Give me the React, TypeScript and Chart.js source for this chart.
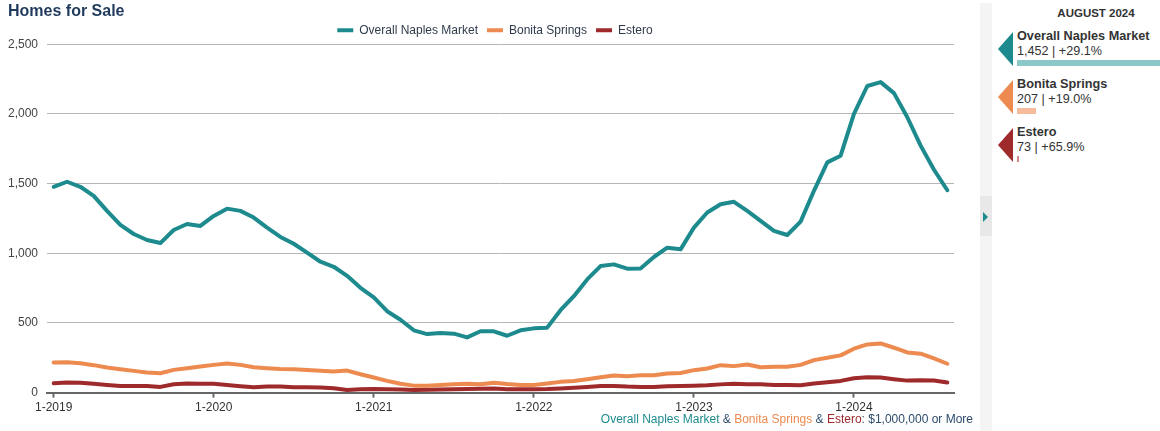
import React, { useEffect, useRef } from 'react';
import { Chart, registerables } from 'chart.js';

Chart.register(...registerables);

const FONT = '"Liberation Sans", Arial, Helvetica, sans-serif';

// ---- data ----
const years = [2019, 2020, 2021, 2022, 2023, 2024];
const monthsShownInLastYear = 8;
const months: string[] = [];
years.forEach((y, yi) => {
  const n = yi === years.length - 1 ? monthsShownInLastYear : 12;
  for (let m = 1; m <= n; m++) months.push(`${m}-${y}`);
});

const seriesNames = ['Overall Naples Market', 'Bonita Springs', 'Estero'];

const naples = [
  1477, 1513, 1477, 1412, 1304, 1203, 1138, 1095, 1073, 1167, 1210, 1196,
  1268, 1320, 1304, 1256, 1184, 1117, 1068, 1004, 939, 903, 838, 752,
  683, 584, 523, 447, 420, 427, 423, 396, 440, 440, 408, 447,
  461, 466, 591, 692, 812, 908, 920, 889, 891, 973, 1040, 1028,
  1184, 1292, 1352, 1369, 1304, 1232, 1160, 1131, 1227, 1448, 1652, 1700,
  2000, 2200, 2228, 2149, 1976, 1772, 1599, 1452,
];

const bonita = [
  216, 218, 211, 197, 180, 168, 156, 144, 139, 163, 175, 187,
  199, 209, 199, 182, 175, 170, 168, 163, 156, 151, 158, 132,
  108, 84, 63, 50, 50, 55, 60, 63, 60, 70, 61, 55,
  55, 65, 77, 84, 96, 110, 122, 117, 125, 125, 137, 141,
  161, 173, 197, 190, 202, 182, 185, 185, 199, 233, 250, 267,
  315, 346, 353, 322, 288, 279, 245, 207,
];

const estero = [
  67, 72, 70, 63, 55, 48, 48, 48, 41, 60, 65, 63,
  63, 55, 46, 38, 43, 43, 38, 38, 36, 31, 19, 24,
  26, 24, 22, 19, 20, 22, 24, 26, 28, 29, 24, 24,
  24, 25, 29, 34, 41, 48, 48, 43, 41, 41, 45, 48,
  50, 53, 59, 63, 60, 60, 55, 55, 53, 65, 74, 84,
  103, 110, 108, 96, 86, 88, 87, 73,
];

const yMin = 0;
const yMax = 2500;
const yStep = 500;

const panelMonth = 'AUGUST 2024';
const panelCounts = ['1,452', '207', '73'];
const panelChanges = ['+29.1%', '+19.0%', '+65.9%'];
const captionSuffix = ': $1,000,000 or More';

// ---- styles ----
const colors = ['#1d8a8e', '#ec8a4f', '#9e2a2b'];
const barColors = ['#8cc8ca', '#f5bb9b', '#d08a8a'];
const barWidths = [143, 19, 2];
const navy = '#2c4a6b';

export default function App() {
  const ref = useRef<HTMLCanvasElement>(null);

  useEffect(() => {
    if (!ref.current) return;
    const shiftLegend = {
      id: 'shiftLegend',
      afterLayout(chart: any) {
        const lg = chart.legend;
        if (lg) {
          lg.left += 14;
          lg.right += 14;
          lg.top += 2;
          lg.bottom += 2;
        }
      },
    };
    const series = [naples, bonita, estero];
    const chart = new Chart(ref.current, {
      type: 'line',
      data: {
        labels: months,
        datasets: series.map((d, i) => ({
          label: seriesNames[i],
          data: d,
          borderColor: colors[i],
          backgroundColor: colors[i],
          borderWidth: 4,
          pointRadius: 0,
          tension: 0,
          borderJoinStyle: 'round' as const,
          borderCapStyle: 'round' as const,
        })),
      },
      options: {
        responsive: false,
        animation: false,
        devicePixelRatio: 1,
        layout: { padding: { left: 8, right: 28, top: 0, bottom: 13 } },
        plugins: {
          title: {
            display: true,
            text: 'Homes for Sale',
            align: 'start',
            color: '#1f3a5c',
            font: { family: FONT, size: 16, weight: 'bold' },
            padding: { top: 2, bottom: -8 },
          },
          legend: {
            display: true,
            position: 'top',
            labels: {
              boxWidth: 16,
              boxHeight: 4,
              padding: 9,
              color: '#2f3b4c',
              font: { family: FONT, size: 12 },
              generateLabels: (c: any) =>
                (Chart.defaults.plugins.legend.labels as any)
                  .generateLabels(c)
                  .map((l: any) => ({ ...l, lineWidth: 0, fillStyle: l.strokeStyle })),
            },
          },
          tooltip: { enabled: false },
        },
        scales: {
          x: {
            type: 'category',
            offset: true,
            grid: {
              display: true,
              offset: false,
              drawOnChartArea: false,
              drawTicks: true,
              tickLength: 5,
              tickWidth: 2,
              tickColor: (ctx: any) =>
                months[ctx.index] && months[ctx.index].startsWith('1-') ? '#666666' : 'rgba(0,0,0,0)',
            },
            border: { display: true, color: '#666666', width: 2 },
            ticks: {
              autoSkip: false,
              maxRotation: 0,
              padding: 3,
              color: '#333333',
              font: { family: FONT, size: 12 },
              callback: (_v: any, i: number) => (months[i].startsWith('1-') ? months[i] : ''),
            },
          },
          y: {
            min: yMin,
            max: yMax,
            afterFit: (scale: any) => {
              scale.width = 39;
            },
            ticks: {
              stepSize: yStep,
              padding: 9,
              color: '#444444',
              font: { family: FONT, size: 12 },
            },
            grid: { color: '#b5b5b5', lineWidth: 1, drawTicks: false },
            border: { display: false },
          },
        },
      } as any,
      plugins: [shiftLegend],
    });
    return () => chart.destroy();
  }, []);

  const arrowTops = [32, 80, 128];

  return (
    <div
      style={{
        position: 'fixed',
        left: 0,
        top: 0,
        width: 1160,
        height: 431,
        background: '#ffffff',
        overflow: 'hidden',
        fontFamily: FONT,
      }}
    >
      <canvas ref={ref} width={982} height={431} style={{ position: 'absolute', left: 0, top: 0, width: 982, height: 431 }} />

      {/* caption */}
      <div
        style={{
          position: 'absolute',
          right: 1160 - 973,
          top: 412,
          fontSize: 12,
          lineHeight: '14px',
          whiteSpace: 'nowrap',
          color: navy,
        }}
      >
        <span style={{ color: colors[0] }}>{seriesNames[0]}</span>
        <span> &amp; </span>
        <span style={{ color: colors[1] }}>{seriesNames[1]}</span>
        <span> &amp; </span>
        <span style={{ color: colors[2] }}>{seriesNames[2]}</span>
        <span>{captionSuffix}</span>
      </div>

      {/* scroll strip */}
      <div style={{ position: 'absolute', left: 980, top: 3, width: 12, height: 428, background: '#f4f4f4' }} />
      <div style={{ position: 'absolute', left: 980, top: 196, width: 12, height: 40, background: '#e8e8e8' }} />
      <svg style={{ position: 'absolute', left: 980, top: 196 }} width={12} height={40}>
        <polygon points="3,16 8,21 3,26" fill={colors[0]} />
      </svg>

      {/* side panel */}
      <div
        style={{
          position: 'absolute',
          left: 1000,
          width: 192,
          top: 5,
          textAlign: 'center',
          fontSize: 11.5,
          fontWeight: 'bold',
          color: '#333',
          lineHeight: '16px',
        }}
      >
        {panelMonth}
      </div>

      {seriesNames.map((name, i) => (
        <React.Fragment key={name}>
          <svg style={{ position: 'absolute', left: 997, top: arrowTops[i] }} width={18} height={36}>
            <polygon points="16,0 1,17 16,34" fill={colors[i]} />
          </svg>
          <div
            style={{
              position: 'absolute',
              left: 1017,
              top: arrowTops[i] - 3,
              fontSize: 12.7,
              fontWeight: 'bold',
              color: '#333',
              lineHeight: '15px',
              whiteSpace: 'nowrap',
            }}
          >
            {name}
          </div>
          <div
            style={{
              position: 'absolute',
              left: 1017,
              top: arrowTops[i] + 12,
              fontSize: 12.6,
              color: '#333',
              lineHeight: '15px',
              whiteSpace: 'nowrap',
            }}
          >
            {panelCounts[i]} | {panelChanges[i]}
          </div>
          <div
            style={{
              position: 'absolute',
              left: 1017,
              top: arrowTops[i] + 28,
              width: barWidths[i],
              height: 6,
              background: barColors[i],
            }}
          />
        </React.Fragment>
      ))}
    </div>
  );
}
